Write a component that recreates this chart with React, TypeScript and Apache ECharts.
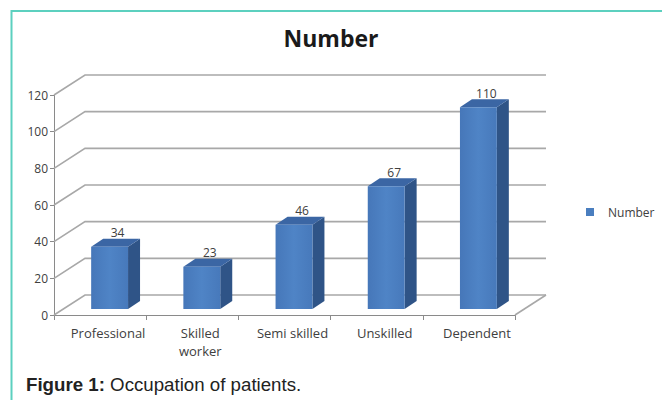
import React, { useEffect, useRef } from "react";
import * as echarts from "echarts";

const categories = ["Professional", "Skilled worker", "Semi skilled", "Unskilled", "Dependent"];
const values = [34, 23, 46, 67, 110];
const yTicks = [0, 20, 40, 60, 80, 100, 120];
const seriesName = "Number";
const titleText = "Number";
const captionBold = "Figure 1:";
const captionRest = " Occupation of patients.";

const FONT = "'Open Sans', 'DejaVu Sans', sans-serif";
const WALL_DX = 31;
const WALL_DY = -20;
const BAR_SHIFT_X = 9.5;
const BAR_SHIFT_Y = -6;
const BAR_DX = 12;
const BAR_DY = -8;

export default function App() {
  const ref = useRef<HTMLDivElement>(null);
  useEffect(() => {
    if (!ref.current) return;
    const chart = echarts.init(ref.current, undefined, { renderer: "svg" });
    const gridColor = "#a8a8a8";
    chart.setOption({
      animation: false,
      backgroundColor: "#ffffff",
      title: {
        text: titleText,
        left: "center",
        top: 26,
        padding: 0,
        textStyle: { fontSize: 23, fontWeight: "bold", fontFamily: FONT, color: "#1a1a1a" },
      },
      legend: {
        data: [seriesName],
        left: 586,
        top: 206,
        padding: 0,
        icon: "rect",
        itemWidth: 8,
        itemHeight: 8,
        textStyle: { fontSize: 12, color: "#404040", fontFamily: FONT, padding: [0, 0, 0, 9] },
      },
      grid: { left: 54, top: 95, width: 461, height: 220 },
      xAxis: {
        type: "category",
        data: categories,
        axisLine: { lineStyle: { color: "#8a8a8a", width: 1 } },
        axisTick: { show: true, length: 5, interval: 0, lineStyle: { color: "#8a8a8a" } },
        axisLabel: {
          interval: 0,
          hideOverlap: false,
          color: "#404040",
          fontSize: 13,
          fontFamily: FONT,
          margin: 9,
          padding: [0, 0, 0, 16],
          lineHeight: 18,
          formatter: (v: string) => (v === "Skilled worker" ? "Skilled\nworker" : v),
        },
      },
      yAxis: {
        type: "value",
        min: 0,
        max: 120,
        interval: 20,
        axisLine: { show: true, lineStyle: { color: "#8a8a8a", width: 1 } },
        axisTick: { show: true, length: 4, lineStyle: { color: "#8a8a8a" } },
        splitLine: { show: false },
        axisLabel: { color: "#404040", fontSize: 12, fontFamily: FONT, margin: 6 },
      },
      series: [
        {
          type: "custom",
          name: "walls",
          silent: true,
          clip: false,
          z: 1,
          data: yTicks.map((t) => [0, t]),
          encode: { x: 0, y: 1 },
          renderItem: (params: any, api: any) => {
            const v = api.value(1);
            const cs = params.coordSys;
            const y = api.coord([0, v])[1];
            const x0 = cs.x;
            const x1 = cs.x + cs.width;
            const style = { stroke: gridColor, lineWidth: 1.6, fill: null };
            const children: any[] = [
              {
                type: "polyline",
                shape: { points: [[x0, y], [x0 + WALL_DX, y + WALL_DY], [x1 + WALL_DX, y + WALL_DY]] },
                style,
              },
            ];
            if (v === 0) {
              children.push({
                type: "line",
                shape: { x1: x1, y1: y, x2: x1 + WALL_DX, y2: y + WALL_DY },
                style,
              });
            }
            return { type: "group", children };
          },
        },
        {
          type: "custom",
          name: seriesName,
          clip: false,
          z: 3,
          itemStyle: { color: "#4a7ebf" },
          data: values.map((v, i) => [i, v]),
          encode: { x: 0, y: 1 },
          renderItem: (params: any, api: any) => {
            const i = api.value(0);
            const v = api.value(1);
            const top = api.coord([i, v]);
            const base = api.coord([i, 0]);
            const bw = api.size([1, 0])[0] * 0.4;
            const cx = top[0] + BAR_SHIFT_X;
            const x = cx - bw / 2;
            const yt = top[1] + BAR_SHIFT_Y;
            const yb = base[1] + BAR_SHIFT_Y;
            return {
              type: "group",
              children: [
                {
                  type: "polygon",
                  shape: {
                    points: [
                      [x + bw, yt],
                      [x + bw + BAR_DX, yt + BAR_DY],
                      [x + bw + BAR_DX, yb + BAR_DY],
                      [x + bw, yb],
                    ],
                  },
                  style: { fill: "#2f5487" },
                },
                {
                  type: "polygon",
                  shape: {
                    points: [
                      [x, yt],
                      [x + BAR_DX, yt + BAR_DY],
                      [x + bw + BAR_DX, yt + BAR_DY],
                      [x + bw, yt],
                    ],
                  },
                  style: { fill: "#3b66a4" },
                },
                {
                  type: "rect",
                  shape: { x, y: yt, width: bw, height: yb - yt },
                  style: {
                    fill: new echarts.graphic.LinearGradient(0, 0, 1, 0, [
                      { offset: 0, color: "#4677b9" },
                      { offset: 0.5, color: "#4f84c6" },
                      { offset: 1, color: "#4779bb" },
                    ]),
                  },
                },
                {
                  type: "text",
                  x: cx + 8,
                  y: yt - 14,
                  style: {
                    text: String(v),
                    align: "center",
                    verticalAlign: "middle",
                    fontSize: 12,
                    fontFamily: FONT,
                    fill: "#404040",
                  },
                },
              ],
            };
          },
        },
      ],
      graphic: [
        {
          type: "line",
          shape: { x1: 11.5, y1: 11, x2: 662, y2: 11 },
          style: { stroke: "#5cd0bf", lineWidth: 2 },
        },
        {
          type: "line",
          shape: { x1: 11.5, y1: 10, x2: 11.5, y2: 400 },
          style: { stroke: "#5cd0bf", lineWidth: 2 },
        },
        {
          type: "text",
          x: 26,
          y: 384,
          style: {
            text: `{b|${captionBold}}${captionRest}`,
            verticalAlign: "middle",
            fontSize: 18.7,
            fontFamily: "'Liberation Sans', Arial, sans-serif",
            fill: "#222222",
            rich: {
              b: {
                fontWeight: "bold",
                fontSize: 18.7,
                fontFamily: "'Liberation Sans', Arial, sans-serif",
                fill: "#222222",
              },
            },
          },
        },
      ],
    });
    return () => chart.dispose();
  }, []);
  return (
    <div
      ref={ref}
      style={{ position: "absolute", left: 0, top: 0, width: 662, height: 400 }}
    />
  );
}
